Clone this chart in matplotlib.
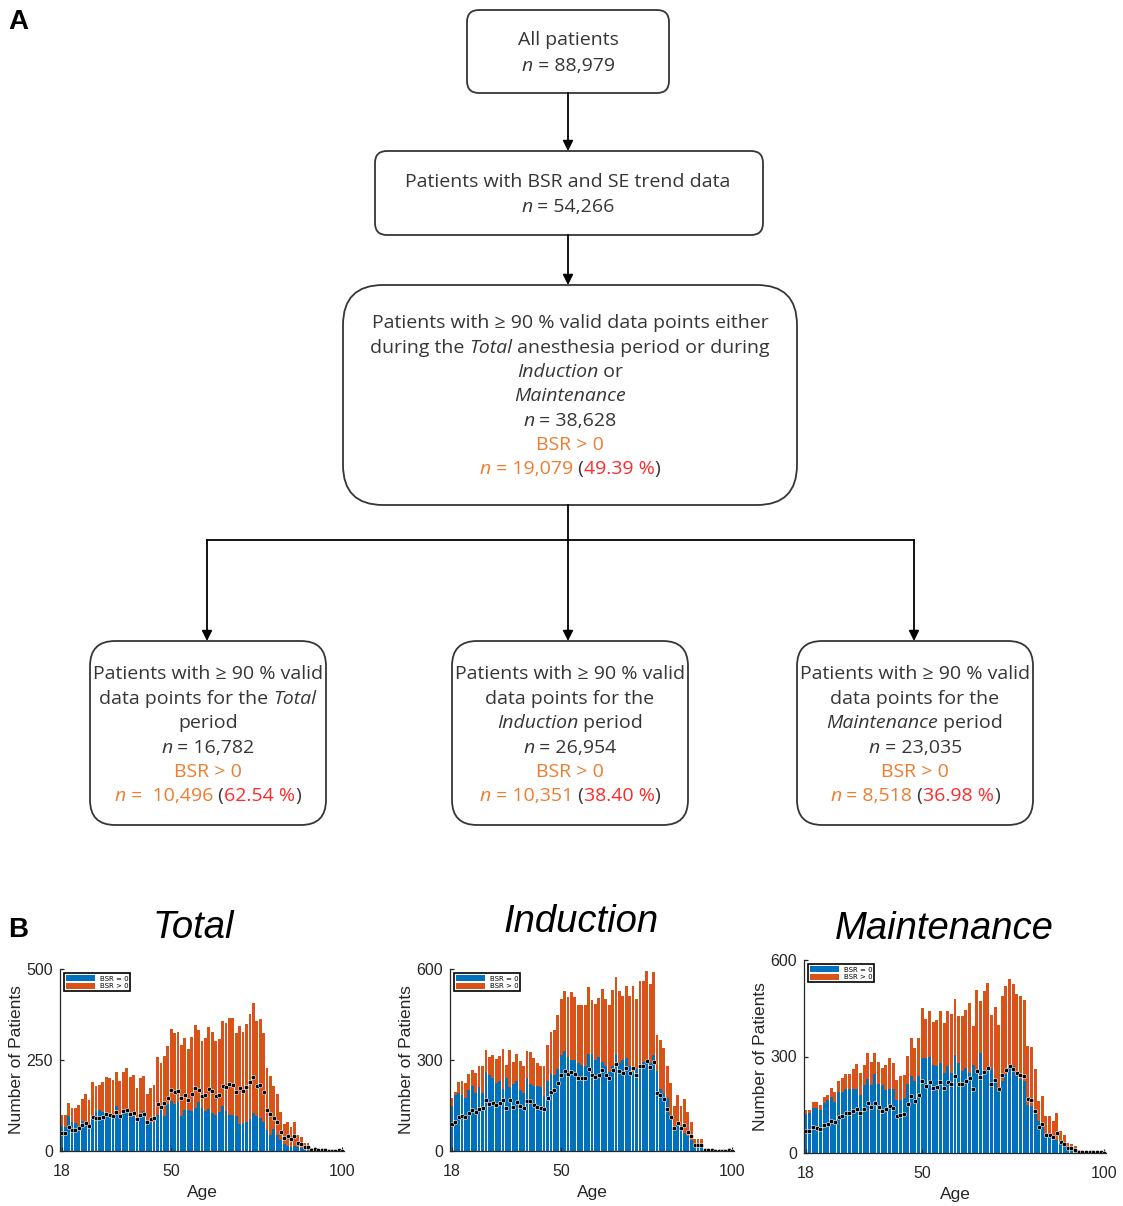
import matplotlib

matplotlib.use("Agg")
import matplotlib.pyplot as plt
import numpy as np
from matplotlib import patches

# ---- histogram data (ages 18..100) ----
ages = np.arange(18, 101)

total_all = [99, 100, 131, 117, 117, 127, 143, 156, 140, 189,
             179, 182, 189, 202, 200, 195, 216, 193, 218, 228,
             202, 209, 174, 200, 206, 157, 174, 180, 257, 241,
             261, 289, 336, 324, 327, 290, 310, 281, 312, 347,
             333, 301, 310, 342, 328, 301, 307, 358, 351, 366,
             365, 324, 344, 328, 349, 377, 406, 356, 362, 324,
             227, 205, 179, 157, 106, 74, 81, 67, 81, 44,
             39, 23, 21, 7, 10, 3, 3, 3, 2, 2,
             2, 3, 1]
total_bsr0 = [70, 67, 95, 80, 78, 70, 82, 80, 75, 95,
              110, 112, 108, 100, 98, 90, 125, 100, 112, 115,
              105, 95, 88, 95, 110, 75, 80, 80, 100, 125,
              95, 130, 138, 130, 135, 95, 112, 112, 110, 118,
              135, 118, 110, 115, 105, 100, 108, 124, 110, 100,
              100, 95, 75, 78, 80, 88, 105, 95, 92, 80,
              58, 45, 60, 45, 30, 20, 15, 12, 15, 10,
              8, 6, 5, 2, 4, 1, 1, 1, 1, 1,
              1, 1, 0]

induction_all = [175, 193, 226, 231, 224, 253, 268, 257, 279, 281,
                 334, 309, 317, 303, 314, 336, 284, 334, 292, 320,
                 298, 281, 331, 327, 306, 290, 281, 279, 350, 391,
                 400, 449, 501, 529, 509, 523, 507, 482, 482, 482,
                 540, 499, 485, 504, 534, 501, 482, 532, 573, 526,
                 512, 545, 512, 545, 501, 559, 562, 592, 552, 589,
                 383, 367, 341, 279, 224, 149, 183, 149, 171, 128,
                 97, 40, 40, 40, 4, 4, 4, 3, 3, 3,
                 2, 4, 1]
induction_bsr0 = [150, 185, 190, 185, 175, 200, 215, 190, 210, 190,
                  260, 250, 240, 225, 230, 205, 240, 210, 220, 230,
                  200, 190, 240, 220, 215, 215, 210, 180, 230, 255,
                  250, 270, 315, 330, 310, 300, 300, 290, 285, 280,
                  320, 320, 300, 310, 295, 280, 260, 280, 320, 290,
                  300, 305, 280, 260, 270, 285, 295, 300, 290, 318,
                  265, 205, 190, 175, 120, 80, 85, 70, 60, 50,
                  35, 20, 15, 12, 2, 2, 2, 2, 2, 2,
                  1, 2, 0]

maintenance_all = [134, 134, 160, 157, 150, 173, 181, 202, 191, 225,
                   233, 246, 246, 261, 276, 248, 274, 310, 284, 312,
                   284, 264, 274, 295, 279, 228, 238, 243, 302, 357,
                   326, 359, 450, 416, 440, 406, 412, 440, 403, 440,
                   432, 478, 426, 426, 445, 467, 395, 507, 471, 505,
                   529, 429, 455, 398, 488, 519, 540, 524, 495, 488,
                   476, 333, 331, 261, 162, 178, 114, 114, 98, 124,
                   67, 57, 31, 28, 21, 8, 6, 5, 5, 4,
                   4, 6, 2]
maintenance_bsr0 = [122, 125, 140, 140, 135, 155, 165, 175, 160, 190,
                    190, 200, 200, 200, 200, 180, 210, 230, 210, 245,
                    215, 210, 195, 200, 200, 165, 165, 170, 215, 240,
                    225, 240, 295, 295, 300, 275, 270, 280, 250, 270,
                    250, 305, 280, 255, 265, 250, 275, 250, 310, 255,
                    270, 260, 225, 190, 225, 245, 265, 270, 240, 230,
                    225, 150, 145, 125, 100, 80, 55, 50, 40, 40,
                    30, 25, 15, 12, 10, 4, 3, 2, 2, 2,
                    2, 3, 1]

panel_titles = ["Total", "Induction", "Maintenance"]
panel_yticks = [[0, 250, 500], [0, 300, 600], [0, 300, 600]]
x_ticks = [18, 50, 100]

W, H = 1123, 1206
BLUE = "#0072BD"
ORANGE = "#D95319"
DARK = "#363636"
TXT_OR = "#ED7D31"
TXT_RED = "#FF2B2B"
AXC = "#262626"
FLOW_FONT = ["Open Sans", "DejaVu Sans"]
AX_FONT = ["Liberation Sans", "DejaVu Sans"]
FS = 14.0

fig = plt.figure(figsize=(W / 100, H / 100), dpi=100)
ax0 = fig.add_axes([0, 0, 1, 1])
ax0.set_xlim(0, W)
ax0.set_ylim(H, 0)
ax0.axis("off")
renderer = fig.canvas.get_renderer()


def seg_width(text, style):
    t = ax0.text(0, 0, "|" + text + "|", fontsize=FS, style=style, family=FLOW_FONT)
    w = t.get_window_extent(renderer).width
    t.remove()
    t = ax0.text(0, 0, "||", fontsize=FS, style=style, family=FLOW_FONT)
    w0 = t.get_window_extent(renderer).width
    t.remove()
    return w - w0


def rich_line(xc, yc, segs):
    # segs: (text, color, style)
    widths = [seg_width(t, s) for t, c, s in segs]
    x = xc - sum(widths) / 2
    for (t, c, s), w in zip(segs, widths):
        ax0.text(x, yc + 7, t, fontsize=FS, style=s, color=c, family=FLOW_FONT,
                 ha="left", va="baseline")
        x += w


def box(x, y, w, h, r):
    ax0.add_patch(patches.FancyBboxPatch((x, y), w, h, boxstyle=f"round,pad=0,rounding_size={r}",
                                         facecolor="white", edgecolor=DARK, linewidth=1.3))


def arrow(x, y0, y1):
    ax0.annotate("", xy=(x, y1), xytext=(x, y0),
                 arrowprops=dict(arrowstyle="-|>", color="black", lw=1.3, mutation_scale=15,
                                 shrinkA=0, shrinkB=0))


def n_line(value):
    return [("n", DARK, "italic"), (" = " + value, DARK, "normal")]


def bsr_lines(xc, y, value, pct):
    rich_line(xc, y, [("BSR > 0", TXT_OR, "normal")])
    rich_line(xc, y + 24.4, [("n", TXT_OR, "italic"), (" = " + value, TXT_OR, "normal"),
                             (" (", DARK, "normal"), (pct, TXT_RED, "normal"), (")", DARK, "normal")])


N = "normal"
I = "italic"

# box 1
box(467, 10, 202, 83, 12)
rich_line(568, 38, [("All patients", DARK, N)])
rich_line(568, 64, n_line("88,979"))
arrow(568, 93, 151)

# box 2
box(375, 151, 388, 84, 12)
rich_line(568, 180, [("Patients with BSR and SE trend data", DARK, N)])
rich_line(568, 205, n_line("54,266"))
arrow(568, 235, 285)

# box 3
box(343, 285, 454, 220, 40)
rich_line(570, 321, [("Patients with \u2265 90 % valid data points either", DARK, N)])
rich_line(570, 346, [("during the ", DARK, N), ("Total", DARK, I), (" anesthesia period or during", DARK, N)])
rich_line(570, 370, [("Induction", DARK, I), (" or", DARK, N)])
rich_line(570, 394, [("Maintenance", DARK, I)])
rich_line(570, 419, n_line("38,628"))
bsr_lines(570, 443, "19,079", "49.39 %")

# branches
ax0.plot([568, 568], [505, 540], color="black", lw=1.3)
ax0.plot([207, 914], [540, 540], color="black", lw=1.3)
for xb in (207, 568, 914):
    arrow(xb, 540, 641)

lower = [
    (90, [("data points for the ", DARK, N), ("Total", DARK, I)], [("period", DARK, N)],
     "16,782", " 10,496", "62.54 %"),
    (452, [("data points for the", DARK, N)], [("Induction", DARK, I), (" period", DARK, N)],
     "26,954", "10,351", "38.40 %"),
    (797, [("data points for the", DARK, N)], [("Maintenance", DARK, I), (" period", DARK, N)],
     "23,035", "8,518", "36.98 %"),
]
for x, l2, l3, n_all, n_pos, pct in lower:
    box(x, 641, 236, 184, 25)
    xc = x + 118
    rich_line(xc, 672, [("Patients with \u2265 90 % valid", DARK, N)])
    rich_line(xc, 697, l2)
    rich_line(xc, 721, l3)
    rich_line(xc, 746, n_line(n_all))
    bsr_lines(xc, 770, n_pos, pct)

ax0.text(8, 22, "A", fontsize=20, fontweight="bold", family=AX_FONT, va="center", ha="left")
ax0.text(8, 930, "B", fontsize=20, fontweight="bold", family=AX_FONT, va="center", ha="left")

title_pos = [(193, 928), (581, 922), (944, 929)]
for (tx, ty), title in zip(title_pos, panel_titles):
    ax0.text(tx, ty, title, fontsize=27.5, style="italic", family=AX_FONT, ha="center", va="center")

# ---- histograms ----
rects = [
    [60 / W, 1 - 1151 / H, 284 / W, 182 / H],
    [450 / W, 1 - 1151 / H, 284 / W, 182 / H],
    [804 / W, 1 - 1153 / H, 302 / W, 193 / H],
]
series = [(total_all, total_bsr0), (induction_all, induction_bsr0), (maintenance_all, maintenance_bsr0)]

for rect, (tot, b0), yt in zip(rects, series, panel_yticks):
    ax = fig.add_axes(rect)
    tot = np.array(tot)
    b0 = np.array(b0)
    ax.bar(ages, b0, width=0.82, color=BLUE, edgecolor="none", label="BSR = 0")
    ax.bar(ages, tot - b0, bottom=b0, width=0.82, color=ORANGE, edgecolor="none", label="BSR > 0")
    ax.plot(ages, tot / 2, ls="none", marker="o", ms=3.2, mfc="black", mec="white", mew=0.4)
    ax.set_xlim(17.5, 100.5)
    ax.set_ylim(yt[0], yt[-1])
    ax.set_xticks(x_ticks)
    ax.set_yticks(yt)
    for s in ("top", "right"):
        ax.spines[s].set_visible(False)
    for s in ("left", "bottom"):
        ax.spines[s].set_color(AXC)
        ax.spines[s].set_linewidth(0.9)
    ax.tick_params(direction="in", length=3, width=0.9, colors=AXC, labelsize=11.5)
    ax.tick_params(axis="x", pad=9)
    ax.tick_params(axis="y", pad=5)
    for lab in ax.get_xticklabels() + ax.get_yticklabels():
        lab.set_family(AX_FONT)
    ax.set_xlabel("Age", fontsize=12.5, family=AX_FONT, color=AXC, labelpad=5)
    ax.set_ylabel("Number of Patients", fontsize=12.5, family=AX_FONT, color=AXC, labelpad=2)
    leg = ax.legend(loc="upper left", fontsize=5, handlelength=4.2, handleheight=1.0,
                    fancybox=False, edgecolor="black", framealpha=1, borderpad=0.3,
                    labelspacing=0.15, handletextpad=0.6, borderaxespad=0.6)
    leg.get_frame().set_linewidth(1.2)

fig.savefig("out.png", dpi=100)
